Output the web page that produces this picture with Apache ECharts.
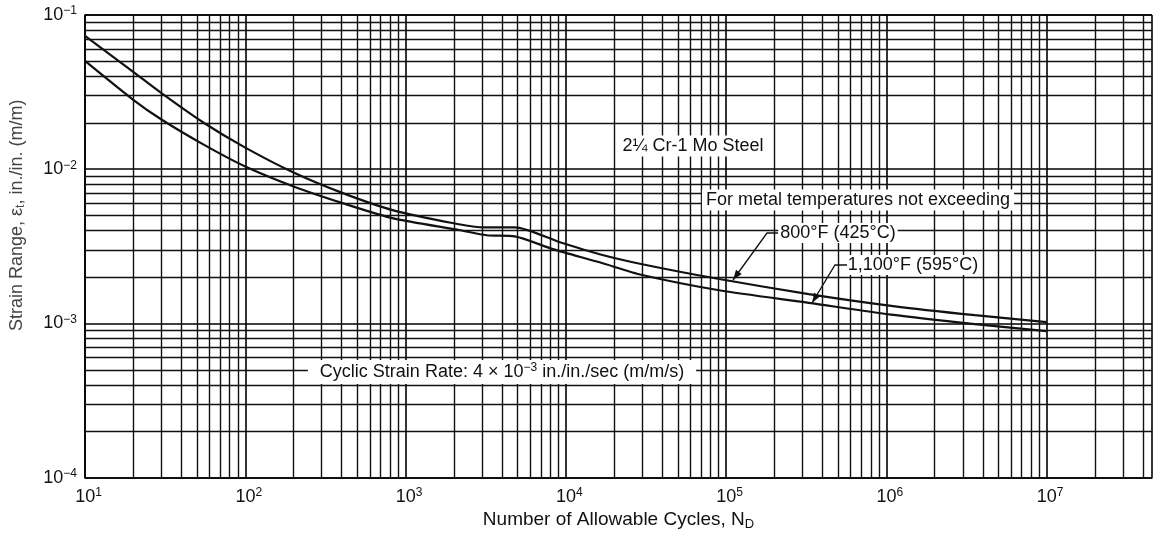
<!DOCTYPE html>
<html><head><meta charset="utf-8">
<script src="https://cdn.jsdelivr.net/npm/echarts@6/dist/echarts.min.js"></script>
<style>html,body{margin:0;padding:0;background:#fff}#c{width:1155px;height:536px}</style>
</head><body><div id="c"></div>
<script>
// ---- data (log-log fatigue curves) ----
const cycles800  = [10, 20, 30, 55, 100, 200, 410, 840, 2000, 3000, 4800, 9200, 16250, 30000, 90600, 328000, 1074000, 3570000, 10000000];
const strain800  = [0.0732, 0.0428, 0.0311, 0.0200, 0.0138, 0.00952, 0.00697, 0.00541, 0.00446, 0.00420, 0.00420, 0.00336, 0.00281, 0.00242, 0.00194, 0.00155, 0.00130, 0.00113, 0.00102];
const cycles1100 = [10, 20, 30, 55, 100, 200, 410, 840, 2200, 3200, 4800, 8300, 16250, 30000, 90600, 328000, 1074000, 3570000, 10000000];
const strain1100 = [0.0504, 0.0282, 0.0210, 0.01444, 0.01041, 0.00773, 0.00600, 0.00480, 0.00402, 0.00373, 0.00367, 0.00303, 0.00249, 0.00206, 0.00164, 0.00136, 0.00114, 0.00099, 0.00089];
const xLabelExps = [1, 2, 3, 4, 5, 6, 7];
const yLabelExps = [-4, -3, -2, -1];
const seriesNames = ['800°F (425°C)', '1,100°F (595°C)'];

const FONT = '"Liberation Sans", Arial, Helvetica, sans-serif';
const INK = '#111';
const xMin = 10, xMax = 4.55e7, yMin = 1e-4, yMax = 1e-1;

function minorVals(eLo, eHi, maxV) {
  const out = [];
  for (let e = eLo; e < eHi; e++) {
    const d = Math.pow(10, e);
    for (let k = 2; k <= 9; k++) { const v = k * d; if (v < maxV) out.push(v); }
  }
  return out;
}
const minorX = minorVals(1, 8, xMax);
const minorY = minorVals(-4, -1, yMax);
const gridSegs = minorX.map(v => ({ coords: [[v, yMin], [v, yMax]] }))
  .concat(minorY.map(v => ({ coords: [[xMin, v], [xMax, v]] })));

function powLabel(allowed) {
  return function (v) {
    const e = Math.log10(v), r = Math.round(e);
    if (Math.abs(e - r) > 1e-6 || allowed.indexOf(r) < 0) return '';
    const s = r < 0 ? '\u2212' + (-r) : '' + r;
    return '{b|10}{s|' + s + '}';
  };
}
const pair = (xs, ys) => xs.map((x, i) => [x, ys[i]]);

function arrowHead(tip, from, len, half) {
  const dx = tip[0] - from[0], dy = tip[1] - from[1];
  const L = Math.hypot(dx, dy), ux = dx / L, uy = dy / L;
  const bx = tip[0] - ux * len, by = tip[1] - uy * len;
  return [tip, [bx - uy * half, by + ux * half], [bx + uy * half, by - ux * half]];
}
function textBox(x, y, text, extra) {
  return {
    type: 'text', x: x, y: y, z: 100,
    style: Object.assign({
      text: text, font: '18px ' + FONT, fill: INK, align: 'center', verticalAlign: 'middle',
      backgroundColor: '#fff', padding: [2, 4, 1, 4]
    }, extra || {})
  };
}

const lead800 = [[778, 233], [767, 233], [733, 280]];
const lead1100 = [[847, 265], [835, 265], [812, 303]];

const chart = echarts.init(document.getElementById('c'));
chart.setOption({
  animation: false,
  backgroundColor: '#fff',
  grid: { left: 83, right: 0, top: 15, bottom: 57, containLabel: false },
  xAxis: {
    type: 'log', logBase: 10, min: xMin, max: xMax, interval: 1,
    name: '{a|Number of Allowable Cycles, N}{d|D}',
    nameLocation: 'middle', nameGap: 27,
    nameTextStyle: { rich: {
      a: { fontSize: 19, fontFamily: FONT, color: INK, lineHeight: 22 },
      d: { fontSize: 13, fontFamily: FONT, color: INK, verticalAlign: 'bottom', lineHeight: 14 }
    } },
    axisLine: { show: true, lineStyle: { color: '#000', width: 1.6 } },
    axisTick: { show: false },
    splitLine: { show: true, lineStyle: { color: '#000', width: 1.6 } },
    axisLabel: {
      margin: 9, formatter: powLabel(xLabelExps),
      rich: {
        b: { fontSize: 18, fontFamily: FONT, color: INK, lineHeight: 20, padding: [0, 0, 0, 7] },
        s: { fontSize: 12, fontFamily: FONT, color: INK, verticalAlign: 'top', lineHeight: 12 }
      }
    }
  },
  yAxis: {
    type: 'log', logBase: 10, min: yMin, max: yMax, interval: 1,
    name: '{a|Strain Range, \u03b5}{t|t}{a|, in./in. (m/m)}',
    nameLocation: 'middle', nameGap: 58,
    nameTextStyle: { padding: [0, 0, 0, 62], rich: {
      a: { fontSize: 18, fontFamily: FONT, color: '#444', lineHeight: 20 },
      t: { fontSize: 12, fontFamily: FONT, color: '#444', verticalAlign: 'bottom', lineHeight: 13 }
    } },
    axisLine: { show: true, lineStyle: { color: '#000', width: 1.6 } },
    axisTick: { show: false },
    splitLine: { show: true, lineStyle: { color: '#000', width: 1.6 } },
    axisLabel: {
      margin: 8, formatter: powLabel(yLabelExps),
      rich: {
        b: { fontSize: 18, fontFamily: FONT, color: INK, lineHeight: 20 },
        s: { fontSize: 12, fontFamily: FONT, color: INK, verticalAlign: 'top', lineHeight: 12 }
      }
    }
  },
  series: [
    {
      name: 'grid', type: 'lines', coordinateSystem: 'cartesian2d', z: 1, silent: true,
      data: gridSegs, symbol: ['none', 'none'],
      lineStyle: { type: 'solid', color: '#111', width: 1.4, opacity: 1 },
      emphasis: { disabled: true }
    },
    {
      name: seriesNames[0], type: 'line', z: 5, data: pair(cycles800, strain800),
      showSymbol: false, smooth: 0.25,
      lineStyle: { color: INK, width: 2.2 }
    },
    {
      name: seriesNames[1], type: 'line', z: 5, data: pair(cycles1100, strain1100),
      showSymbol: false, smooth: 0.25,
      lineStyle: { color: INK, width: 2.2 }
    }
  ],
  graphic: [
    textBox(693, 146, '2\u00bc Cr-1 Mo Steel'),
    textBox(858, 200, 'For metal temperatures not exceeding'),
    textBox(838, 233, seriesNames[0], { padding: [1, 2, 1, 2] }),
    textBox(913, 265, seriesNames[1], { padding: [1, 2, 1, 2] }),
    textBox(502, 372, '{a|Cyclic Strain Rate: 4 \u00d7 10}{s|\u22123}{a| in./in./sec (m/m/s)}', {
      padding: [2, 12, 2, 12],
      rich: {
        a: { fontSize: 18, fontFamily: FONT, fill: INK, color: INK, lineHeight: 20 },
        s: { fontSize: 12, fontFamily: FONT, fill: INK, color: INK, verticalAlign: 'top', lineHeight: 12 }
      }
    }),
    { type: 'polyline', z: 100, shape: { points: lead800 }, style: { stroke: INK, lineWidth: 1.3, fill: null } },
    { type: 'polygon', z: 100, shape: { points: arrowHead(lead800[2], lead800[1], 10, 3.5) }, style: { fill: INK } },
    { type: 'polyline', z: 100, shape: { points: lead1100 }, style: { stroke: INK, lineWidth: 1.3, fill: null } },
    { type: 'polygon', z: 100, shape: { points: arrowHead(lead1100[2], lead1100[1], 10, 3.5) }, style: { fill: INK } }
  ]
});
</script>
</body></html>
